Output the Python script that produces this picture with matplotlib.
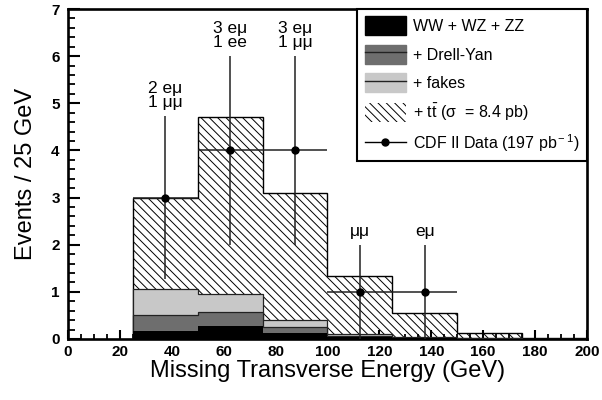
import matplotlib
matplotlib.use('Agg')
import matplotlib.pyplot as plt
from matplotlib.patches import Patch
from matplotlib.lines import Line2D
from matplotlib.ticker import MultipleLocator
import numpy as np

plt.rcParams['font.family'] = ['Liberation Sans', 'DejaVu Sans']
plt.rcParams['mathtext.fontset'] = 'custom'
plt.rcParams['mathtext.rm'] = 'Liberation Sans'
plt.rcParams['mathtext.it'] = 'Liberation Sans:italic'
plt.rcParams['mathtext.bf'] = 'Liberation Sans:bold'
plt.rcParams['hatch.linewidth'] = 0.7

# ---- data ----
bin_edges = [25, 50, 75, 100, 125, 150, 175, 200]
ttbar_total = [3.0, 4.7, 3.1, 1.34, 0.55, 0.12, 0.02]
fakes_total = [1.06, 0.95, 0.40, 0.10, 0.05, 0.02, 0.01]
dy_total = [0.51, 0.58, 0.26, 0.07, 0.03, 0.015, 0.008]
diboson = [0.16, 0.28, 0.13, 0.04, 0.02, 0.01, 0.005]

data_x = [37.5, 62.5, 87.5, 112.5, 137.5]
data_y = [3, 4, 4, 1, 1]
data_xerr = [12.5, 12.5, 12.5, 12.5, 12.5]
channel_labels = ['2 eμ\n1 μμ', '3 eμ\n1 ee', '3 eμ\n1 μμ', 'μμ', 'eμ']

legend_labels = ['WW + WZ + ZZ', '+ Drell-Yan', '+ fakes',
                 r'+ t$\bar{\rm t}$ (σ  = 8.4 pb)',
                 r'CDF II Data (197 pb$^{\rm -1}$)']

fig = plt.figure(figsize=(6.02, 4.0), dpi=100)
ax = fig.add_axes([0.113, 0.1525, 0.862, 0.825])

ax.stairs(ttbar_total, bin_edges, fill=True, facecolor='white',
          edgecolor='black', hatch='\\\\\\\\', linewidth=0, zorder=1)
ax.stairs(ttbar_total, bin_edges, color='black', linewidth=1.0, zorder=2)
ax.stairs(fakes_total, bin_edges, fill=True, facecolor='#c8c8c8', zorder=3)
ax.stairs(fakes_total, bin_edges, color='#222222', linewidth=0.9, zorder=3.1)
ax.stairs(dy_total, bin_edges, fill=True, facecolor='#6e6e6e', zorder=4)
ax.stairs(dy_total, bin_edges, color='#222222', linewidth=0.9, zorder=4.1)
ax.stairs(diboson, bin_edges, fill=True, facecolor='black', zorder=5)

yerr = np.sqrt(data_y)
ax.errorbar(data_x, data_y, xerr=data_xerr, yerr=yerr, fmt='o', color='black',
            ecolor='#222222', elinewidth=1.1, markersize=5, capsize=0, zorder=10)

for x, y, e, lab in zip(data_x, data_y, yerr, channel_labels):
    ax.text(x, y + e + 0.12, lab, ha='center', va='bottom', fontsize=12.5,
            linespacing=0.95)

ax.set_xlim(0, 200)
ax.set_ylim(0, 7)
ax.xaxis.set_major_locator(MultipleLocator(20))
ax.xaxis.set_minor_locator(MultipleLocator(5))
ax.yaxis.set_major_locator(MultipleLocator(1))
ax.yaxis.set_minor_locator(MultipleLocator(0.2))
ax.tick_params(axis='x', which='major', direction='in', length=6.5, width=1.5, labelsize=11, pad=4)
ax.tick_params(axis='x', which='minor', direction='in', length=3.6, width=1.3)
ax.tick_params(axis='y', which='major', direction='in', length=8.6, width=1.5, labelsize=11, pad=6)
ax.tick_params(axis='y', which='minor', direction='in', length=5, width=1.3)
for lab in ax.get_xticklabels() + ax.get_yticklabels():
    lab.set_fontweight('bold')
for sp in ax.spines.values():
    sp.set_linewidth(1.9)

ax.set_xlabel('Missing Transverse Energy (GeV)', fontsize=17, labelpad=1)
ax.set_ylabel('Events / 25 GeV', fontsize=17, labelpad=10)

h_ww = Patch(facecolor='black', edgecolor='black')
h_dy = (Patch(facecolor='#6e6e6e', edgecolor='#6e6e6e'), Line2D([], [], color='#222222', lw=1))
h_fk = (Patch(facecolor='#c8c8c8', edgecolor='#c8c8c8'), Line2D([], [], color='#222222', lw=1))
h_tt = Patch(facecolor='white', edgecolor='black', hatch='\\\\\\\\', linewidth=0)
h_data = Line2D([], [], color='black', marker='o', markersize=5, lw=1)
leg = ax.legend([h_ww, h_dy, h_fk, h_tt, h_data], legend_labels,
                loc='upper right', bbox_to_anchor=(1.0, 1.0), borderaxespad=0,
                fontsize=11.5, fancybox=False, framealpha=1, edgecolor='black',
                handlelength=2.6, handleheight=1.45, labelspacing=0.6,
                handletextpad=0.45, borderpad=0.45)
leg.get_frame().set_linewidth(1.5)
leg.set_zorder(20)

fig.savefig('out.png', dpi=100)
